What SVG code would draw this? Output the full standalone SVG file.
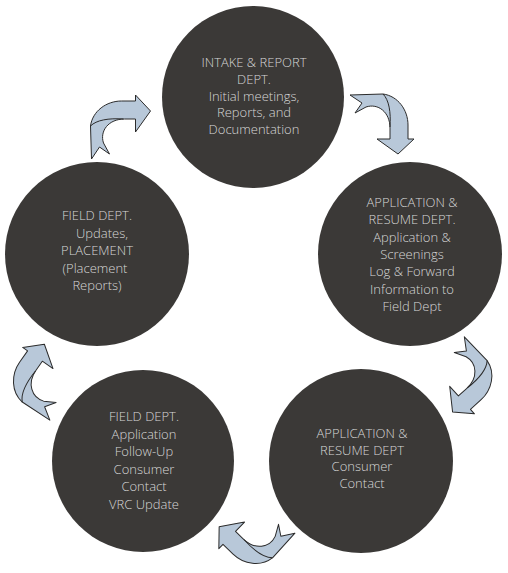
<svg xmlns="http://www.w3.org/2000/svg" width="508" height="573" viewBox="0 0 508 573">
<style>
.node{fill:#3b3937;}
.lbl{font-family:"Open Sans","Noto Sans",sans-serif;font-size:13px;font-weight:300;fill:#d6d6d6;text-anchor:middle;}
.arr{fill:#b8c8d9;stroke:#2b2b2b;stroke-width:1;stroke-linejoin:round;}
.fold{fill:none;stroke:#2b2b2b;stroke-width:1;}
</style>
<defs>
<g id="arrow">
<path class="arr" d="M350,95 L383,94 C398,96 408,110 408,125 L408,139 L414,139 L398,154 L377,139 L390,139 L390,128 C390,112 378,103 366,107 L355,113 L362,103 Z"/>
<path class="fold" d="M383,94 C389,100 391,112 390,127"/>
</g>
</defs>
<rect width="508" height="573" fill="#ffffff"/>
<g id="connectors">
<use href="#arrow"/>
<use href="#arrow" transform="translate(79.5,253) rotate(48,380,128.5)"/>
<use href="#arrow" transform="translate(-130,403) rotate(134,380,128.5)"/>
<use href="#arrow" transform="translate(-335.5,247) rotate(215,380,128.5)"/>
<use href="#arrow" transform="translate(-255,0.5) rotate(270,380,128.5)"/>
</g>
<g id="intake">
<circle class="node" cx="253" cy="97" r="91"/>
<text class="lbl" x="254" y="67">INTAKE &amp; REPORT<tspan x="254" dy="16.8">DEPT.</tspan><tspan x="254" dy="16.8">Initial meetings,</tspan><tspan x="254" dy="16.8">Reports, and</tspan><tspan x="254" dy="16.8">Documentation</tspan></text>
</g>
<g id="app-resume-1">
<circle class="node" cx="410" cy="254" r="92"/>
<text class="lbl" x="412" y="207">APPLICATION &amp;<tspan x="412" dy="17.3">RESUME DEPT.</tspan><tspan x="412" dy="17.3">Application &amp;</tspan><tspan x="412" dy="17.3">Screenings</tspan><tspan x="412" dy="17.3">Log &amp; Forward</tspan><tspan x="412" dy="17.3">Information to</tspan><tspan x="412" dy="17.3">Field Dept</tspan></text>
</g>
<g id="app-resume-2">
<circle class="node" cx="361" cy="461" r="92"/>
<text class="lbl" x="362" y="438">APPLICATION &amp;<tspan x="362" dy="16.5">RESUME DEPT</tspan><tspan x="362" dy="16.5">Consumer</tspan><tspan x="362" dy="16.5">Contact</tspan></text>
</g>
<g id="field-followup">
<circle class="node" cx="143" cy="461" r="91"/>
<text class="lbl" x="144" y="421">FIELD DEPT.<tspan x="144" dy="17.5">Application</tspan><tspan x="144" dy="17.5">Follow-Up</tspan><tspan x="144" dy="17.5">Consumer</tspan><tspan x="144" dy="17.5">Contact</tspan><tspan x="144" dy="17.5">VRC Update</tspan></text>
</g>
<g id="field-placement">
<circle class="node" cx="97" cy="254" r="92"/>
<text class="lbl" x="97" y="220">FIELD DEPT.<tspan x="102" dy="17.5">Updates,</tspan><tspan x="97" dy="17.5">PLACEMENT</tspan><tspan x="95" dy="17.5">(Placement</tspan><tspan x="97" dy="17.5">Reports)</tspan></text>
</g>
</svg>
